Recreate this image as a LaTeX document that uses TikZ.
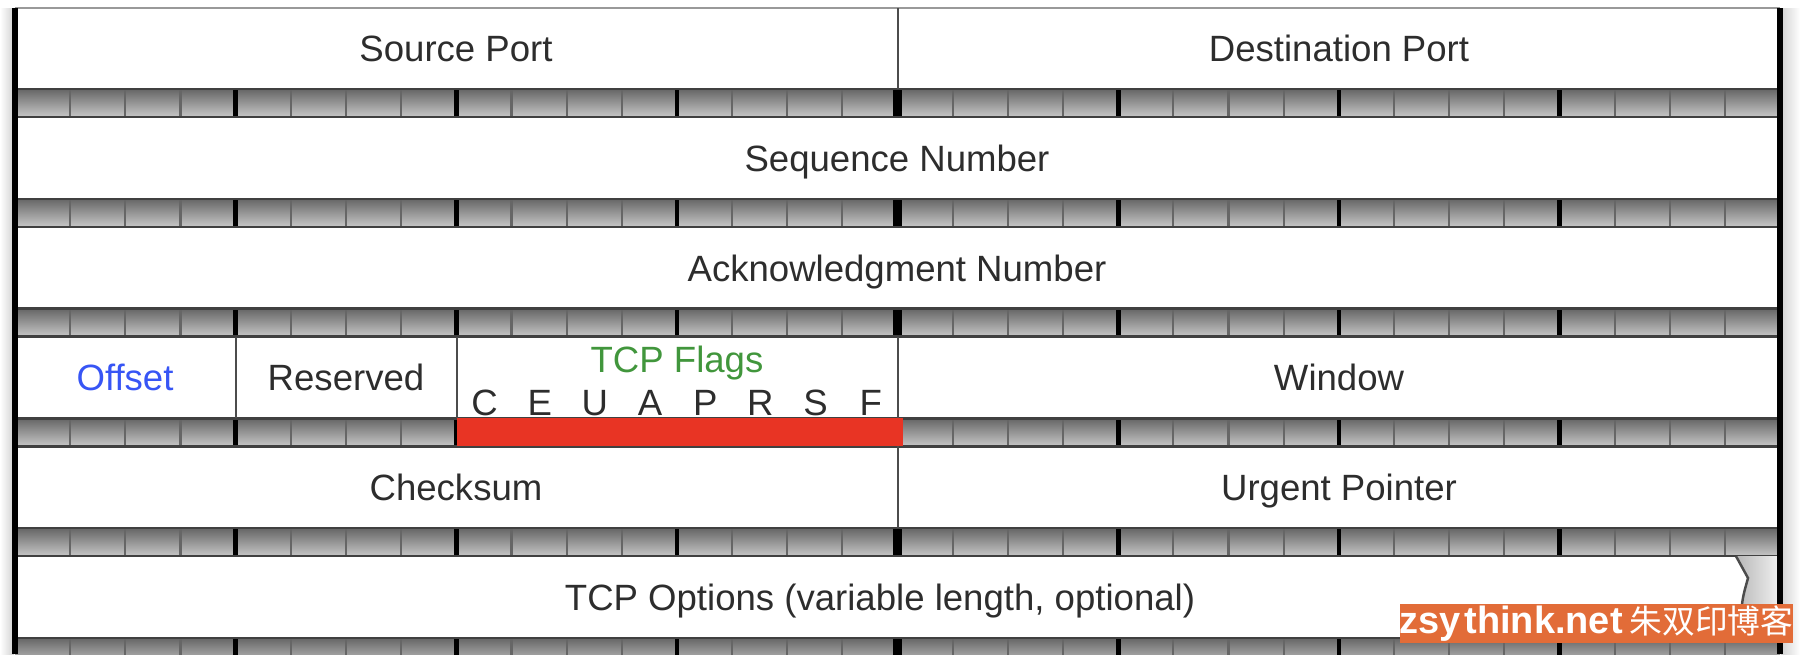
\documentclass[tikz,border=0pt]{standalone}
\usepackage{fontspec}
\setmainfont{Liberation Sans}
\newfontfamily\cjkfont{Noto Sans CJK SC}
\definecolor{labelgray}{RGB}{45,45,45}
\definecolor{offsetblue}{RGB}{55,85,245}
\definecolor{flaggreen}{RGB}{65,150,60}
\definecolor{flagred}{RGB}{232,52,36}
\definecolor{wmorange}{RGB}{226,108,56}
\usetikzlibrary{calc}
\tikzset{
  field/.style={font=\fontsize{10.4}{12}\selectfont,text=labelgray,inner sep=0pt,
                text height=7.5pt,text depth=0pt},
  sep/.style={draw=black!70,line width=0.6pt},
  edgeline/.style={line width=1.6pt,black},
  stripline/.style={black!75,line width=0.7pt},
  wmark/.style={fill=wmorange,text=white,inner sep=0pt,
                minimum width=3.93cm,minimum height=0.39cm},
}

\begin{document}
\begin{tikzpicture}[x=0.01cm,y=-0.01cm]
  \useasboundingbox (0,0) rectangle (1800,654);
  \clip (0,0) rectangle (1800,654);
  % side shadows
  \shade[left color=white,right color=black!18] (0,8) rectangle (14,654);
  \shade[left color=black!18,right color=white] (1781,8) rectangle (1800,654);
  \draw[black!40,line width=0.6pt] (15,8) -- (1780,8);

  % bit rulers
  \foreach \k in {0,...,5}{
    \pgfmathsetmacro\yt{89+109.8*\k}
    \pgfmathsetmacro\yb{\yt+28}
    \shade[top color=black!60,bottom color=black!22] (15,\yt) rectangle (1780,\yb);
    \foreach \b in {1,...,31}{
      \pgfmathsetmacro\xb{15+55.16*\b}
      \pgfmathsetmacro\lw{\b==16 ? 2.8 : (mod(\b,4)==0 ? 1.3 : 0.6)}
      \pgfmathtruncatemacro\tint{mod(\b,4)==0 ? 100 : 60}
      \draw[black!\tint,line width=\lw pt] (\xb,\yt) -- (\xb,\yb);
    }
    \draw[stripline] (15,\yt) -- (1780,\yt) (15,\yb) -- (1780,\yb);
  }
  \fill[flagred] (457,418.4) rectangle (903,446.4);

  % field borders
  \draw[sep] (898,8) -- (898,89);
  \draw[sep] (236,336.6) -- (236,418.4) (457,336.6) -- (457,418.4)
             (898,336.6) -- (898,418.4);
  \draw[sep] (898,446.4) -- (898,528.2);

  % open end of the options row
  \shade[left color=black!28,right color=black!6] (1736,556.2) -- (1748,578)
    .. controls (1743,596) .. (1741,612) -- (1745,638) -- (1779,638)
    -- (1779,556.2) -- cycle;
  \draw[black!70,line width=0.7pt] (1736,556.2) -- (1748,578)
    .. controls (1743,596) .. (1741,612) -- (1745,638);

  \draw[edgeline] (15,8) -- (15,654);
  \draw[edgeline] (1780,8) -- (1780,654);

  % labels
  \node[field] (srcport) at (456,48.5) {Source Port};
  \node[field] (dstport) at (1339,48.5) {Destination Port};
  \node[field] (seqnum) at (897,158) {Sequence Number};
  \node[field] (acknum) at (897,268) {Acknowledgment Number};
  \node[field,text=offsetblue] (offset) at (125,377.5) {Offset};
  \node[field] (reserved) at (346,377.5) {Reserved};
  \node[field,text=flaggreen] (flags) at (677,359) {TCP Flags};
  \foreach \f [count=\i from 0] in {C,E,U,A,P,R,S,F}
    \node[field] (flag\f) at (484.6+55.16*\i,402) {\f};
  \node[field] (window) at (1339,377.5) {Window};
  \node[field] (checksum) at (456,487.5) {Checksum};
  \node[field] (urgent) at (1339,487.5) {Urgent Pointer};
  \node[field] (options) at (880,597) {TCP Options (variable length, optional)};

  \node[wmark] (wm) at (1596.5,623.5)
    {\fontsize{10.8}{12}\selectfont\bfseries zsy\kern1pt think.net\kern2pt
     \mdseries\fontsize{9.3}{12}\cjkfont 朱双印博客};
\end{tikzpicture}
\end{document}
